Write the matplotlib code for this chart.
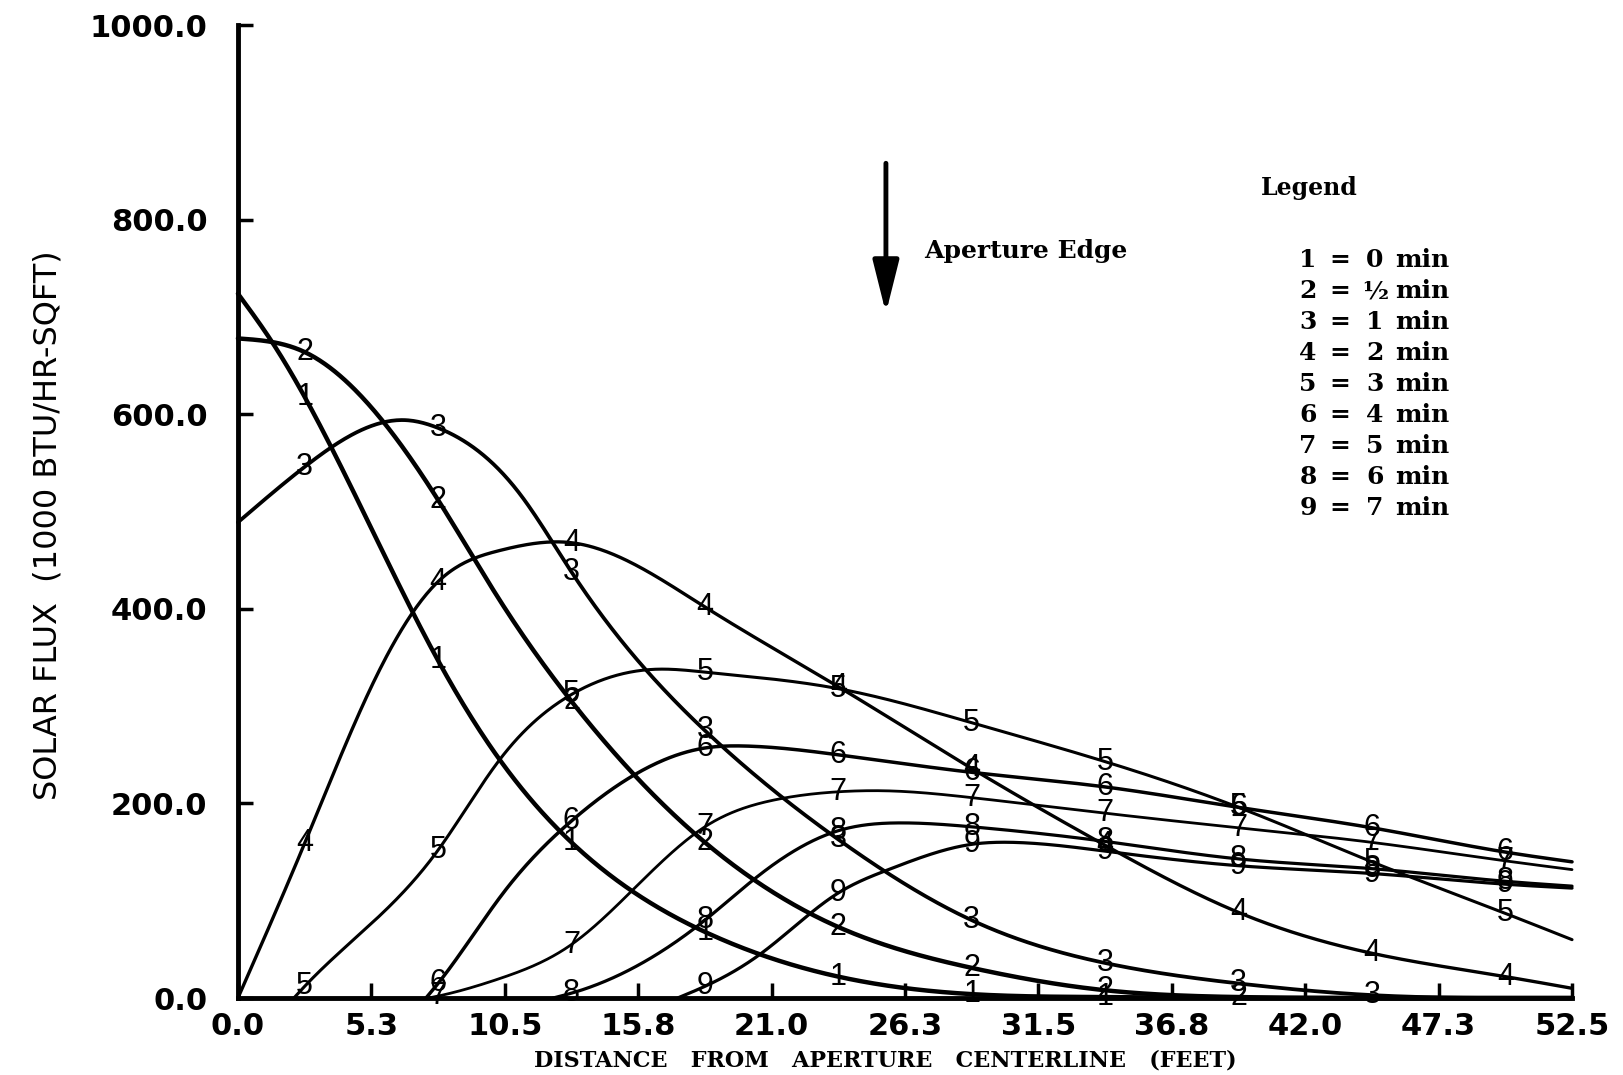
import matplotlib
matplotlib.use("Agg")
import matplotlib.pyplot as plt
import numpy as np

# Solar flux profiles vs. distance from aperture centerline
# (one curve per time after shutdown, read at each station)
dist_marks = [2.625, 7.875, 13.125, 18.375, 23.625, 28.875, 34.125, 39.375, 44.625, 49.875]

dist_0min = [0, 1.3, 2.625, 7.875, 10.3, 13.125, 18.375, 23.625, 28.875, 34.125, 39.375, 52.5]
flux_0min = [724, 676, 618, 347, 245, 160, 68, 22, 4, 1, 0, 0]

dist_half = [0, 2.625, 7.875, 10.3, 13.125, 18.375, 23.625, 28.875, 34.125, 39.375, 44.625, 52.5]
flux_half = [678, 664, 512, 409, 305, 160, 73, 31, 8, 1, 0, 0]

dist_1min = [0, 2.625, 6.6, 7.875, 11.1, 13.125, 18.375, 23.625, 28.875, 34.125, 39.375, 44.625, 49.875, 52.5]
flux_1min = [489, 546, 594, 586, 518, 438, 275, 163, 80, 36, 15, 3, 0, 0]

dist_2min = [0, 2.625, 5.25, 7.875, 10.3, 13.125, 18.375, 23.625, 28.875, 34.125, 39.375, 44.625, 49.875, 52.5]
flux_2min = [0, 159, 320, 428, 460, 468, 402, 320, 236, 157, 88, 46, 22, 10]

dist_3min = [2.2, 2.625, 7.875, 10.3, 13.125, 16.5, 18.375, 23.625, 28.875, 34.125, 39.375, 44.625, 49.875, 52.5]
flux_3min = [0, 12, 152, 245, 312, 338, 335, 318, 283, 243, 196, 140, 87, 60]

dist_4min = [7.4, 7.875, 10.5, 13.125, 18.375, 20.0, 23.625, 28.875, 34.125, 39.375, 44.625, 49.875, 52.5]
flux_4min = [0, 15, 110, 182, 257, 259, 250, 232, 217, 196, 175, 150, 140]

dist_5min = [7.5, 7.875, 10.3, 13.125, 15.3, 18.375, 21.0, 23.625, 25.5, 28.875, 34.125, 39.375, 44.625, 49.875, 52.5]
flux_5min = [0, 2, 20, 55, 105, 176, 203, 212, 213, 206, 190, 175, 160, 141, 132]

dist_6min = [12.4, 13.125, 18.375, 20.5, 23.625, 26.0, 28.875, 34.125, 39.375, 44.625, 49.875, 52.5]
flux_6min = [0, 5, 80, 126, 172, 180, 176, 161, 143, 133, 120, 115]

dist_7min = [17.3, 18.375, 20.6, 23.625, 25.6, 28.875, 30.5, 34.125, 39.375, 44.625, 49.875, 52.5]
flux_7min = [0, 12, 46, 108, 132, 158, 160, 151, 136, 128, 117, 113]

curve_ids = ["1", "2", "3", "4", "5", "6", "7", "8", "9"]
legend_times = ["0", "\u00bd", "1", "2", "3", "4", "5", "6", "7"]

x_ticks = [0, 5.25, 10.5, 15.75, 21.0, 26.25, 31.5, 36.75, 42.0, 47.25, 52.5]
x_tick_labels = ["0.0", "5.3", "10.5", "15.8", "21.0", "26.3", "31.5", "36.8", "42.0", "47.3", "52.5"]
y_ticks = [0, 200, 400, 600, 800, 1000]

curves = [(dist_0min, flux_0min), (dist_half, flux_half), (dist_1min, flux_1min),
          (dist_2min, flux_2min), (dist_3min, flux_3min), (dist_4min, flux_4min),
          (dist_5min, flux_5min), (dist_6min, flux_6min), (dist_7min, flux_7min)]
line_widths = [3.2, 3.2, 2.7, 2.4, 2.2, 2.5, 2.0, 2.3, 2.3]


def natural_spline(x, y, xq):
    # natural cubic spline through the read points
    x = np.asarray(x, float)
    y = np.asarray(y, float)
    n = len(x)
    h = np.diff(x)
    A = np.zeros((n, n))
    b = np.zeros(n)
    A[0, 0] = A[-1, -1] = 1.0
    for i in range(1, n - 1):
        A[i, i - 1] = h[i - 1]
        A[i, i] = 2 * (h[i - 1] + h[i])
        A[i, i + 1] = h[i]
        b[i] = 6 * ((y[i + 1] - y[i]) / h[i] - (y[i] - y[i - 1]) / h[i - 1])
    M = np.linalg.solve(A, b)
    idx = np.clip(np.searchsorted(x, xq) - 1, 0, n - 2)
    x0, x1 = x[idx], x[idx + 1]
    hh = h[idx]
    out = (M[idx] * (x1 - xq) ** 3 + M[idx + 1] * (xq - x0) ** 3) / (6 * hh) \
        + (y[idx] / hh - M[idx] * hh / 6) * (x1 - xq) \
        + (y[idx + 1] / hh - M[idx + 1] * hh / 6) * (xq - x0)
    return np.clip(out, 0, None)


fig = plt.figure(figsize=(16.23, 10.75), dpi=100)
fig.patch.set_facecolor("white")
ax = fig.add_axes([0.1466, 0.0716, 0.822, 0.905])

for cid, (dx, fy), lw in zip(curve_ids, curves, line_widths):
    xs = np.linspace(dx[0], dx[-1], 800)
    ax.plot(xs, natural_spline(dx, fy, xs), color="black", lw=lw,
            solid_capstyle="round", clip_on=False)
    for xm, val in zip(dx, fy):
        if xm in dist_marks and val > 0:
            ax.text(xm, val, cid, ha="center", va="center", fontsize=22,
                    family="Liberation Sans", color="black", clip_on=False)

ax.set_xlim(0, 52.5)
ax.set_ylim(0, 1000)
for side in ("top", "right"):
    ax.spines[side].set_visible(False)
for side in ("left", "bottom"):
    ax.spines[side].set_linewidth(3.5)

ax.set_xticks(x_ticks)
ax.set_xticklabels(x_tick_labels)
ax.set_yticks(y_ticks)
ax.set_yticklabels(["%.1f" % v for v in y_ticks])
ax.tick_params(axis="both", direction="in", length=11, width=2.5, labelsize=22)
ax.tick_params(axis="y", pad=22)
ax.tick_params(axis="x", pad=10)
for lab in ax.get_xticklabels() + ax.get_yticklabels():
    lab.set_fontweight("bold")

W, H = 1623.0, 1075.0
fig.text(48 / W, 1 - 525 / H, "SOLAR FLUX  (1000 BTU/HR-SQFT)", rotation=90,
         ha="center", va="center", fontsize=23, family="DejaVu Sans")
fig.text(885 / W, 1 - 1061 / H, "DISTANCE   FROM   APERTURE   CENTERLINE   (FEET)",
         ha="center", va="center", fontsize=16, family="DejaVu Serif", fontweight="bold")

# aperture edge marker
ax.annotate("", xy=(25.5, 704), xytext=(25.5, 858),
            arrowprops=dict(arrowstyle="-|>,head_length=0.8,head_width=0.2",
                            mutation_scale=40, lw=3.5, color="black",
                            shrinkA=0, shrinkB=0))
fig.text(924 / W, 1 - 251 / H, "Aperture Edge", ha="left", va="center",
         fontsize=18, family="DejaVu Serif", fontweight="bold")

# legend block
fig.text(1261 / W, 1 - 188 / H, "Legend", ha="left", va="center",
         fontsize=17, family="DejaVu Serif", fontweight="bold")
for i, (cid, tm) in enumerate(zip(curve_ids, legend_times)):
    yy = 1 - (260 + 31 * i) / H
    kw = dict(va="center", fontsize=18, family="DejaVu Serif", fontweight="bold")
    fig.text(1308 / W, yy, cid, ha="center", **kw)
    fig.text(1340 / W, yy, "=", ha="center", **kw)
    fig.text(1375 / W, yy, tm, ha="center", **kw)
    fig.text(1395 / W, yy, "min", ha="left", **kw)

fig.savefig("out.png", dpi=100, facecolor="white")
